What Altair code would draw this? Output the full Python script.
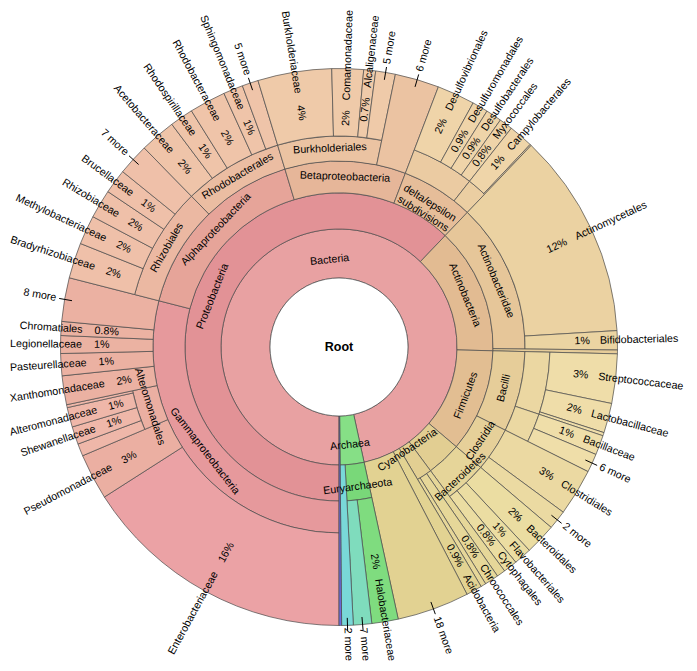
import math
import colorsys
import altair as alt
import pandas as pd

# ---------------- data (clockwise order, starting at the bottom) ----------------
node_ids = [
    "Bacteria", "Archaea", "Other",
    "Proteobacteria", "Actinobacteria", "Firmicutes", "BacteroidetesP", "Cyanobacteria", "Acidobacteria", "more18",
    "Gammaproteobacteria", "Alphaproteobacteria", "Betaproteobacteria", "DeltaEpsilon",
    "Enterobacteriaceae", "Pseudomonadaceae", "Alteromonadales", "Xanthomonadaceae", "Pasteurellaceae",
    "Legionellaceae", "Chromatiales", "gmore8",
    "alt_a", "Shewanellaceae", "Alteromonadaceae", "alt_b",
    "Rhizobiales", "Rhodobacterales",
    "Bradyrhizobiaceae", "Methylobacteriaceae", "Rhizobiaceae", "Brucellaceae", "amore7",
    "Acetobacteraceae", "Rhodospirillaceae", "Rhodobacteraceae", "Sphingomonadaceae", "amore5",
    "Burkholderiales", "bmore6",
    "Burkholderiaceae", "Comamonadaceae", "Alcaligenaceae", "bmore5",
    "Delta", "Epsilon",
    "Desulfovibrionales", "Desulfuromonadales", "Desulfobacterales", "Myxococcales",
    "Campylobacterales", "eps_b",
    "Actinobacteridae", "act_b", "Actinomycetales", "Bifidobacteriales",
    "Bacilli", "Clostridia", "Lactobacillales", "Bacillales",
    "Streptococcaceae", "Lactobacillaceae", "lac_c", "Bacillaceae", "fmore6",
    "Clostridiales", "cmore2",
    "BacteroidetesC", "Bacteroidales", "Flavobacteriales", "Cytophagales",
    "cy_a", "Chroococcales", "cy_b",
    "Euryarchaeota", "amore2", "Halobacteriaceae", "emore7",
]
node_parents = [
    "Root", "Root", "Root",
    "Bacteria", "Bacteria", "Bacteria", "Bacteria", "Bacteria", "Bacteria", "Bacteria",
    "Proteobacteria", "Proteobacteria", "Proteobacteria", "Proteobacteria",
    "Gammaproteobacteria", "Gammaproteobacteria", "Gammaproteobacteria", "Gammaproteobacteria", "Gammaproteobacteria",
    "Gammaproteobacteria", "Gammaproteobacteria", "Gammaproteobacteria",
    "Alteromonadales", "Alteromonadales", "Alteromonadales", "Alteromonadales",
    "Alphaproteobacteria", "Alphaproteobacteria",
    "Rhizobiales", "Rhizobiales", "Rhizobiales", "Rhizobiales", "Rhizobiales",
    "Rhodobacterales", "Rhodobacterales", "Rhodobacterales", "Rhodobacterales", "Rhodobacterales",
    "Betaproteobacteria", "Betaproteobacteria",
    "Burkholderiales", "Burkholderiales", "Burkholderiales", "Burkholderiales",
    "DeltaEpsilon", "DeltaEpsilon",
    "Delta", "Delta", "Delta", "Delta",
    "Epsilon", "Epsilon",
    "Actinobacteria", "Actinobacteria", "Actinobacteridae", "Actinobacteridae",
    "Firmicutes", "Firmicutes", "Bacilli", "Bacilli",
    "Lactobacillales", "Lactobacillales", "Lactobacillales", "Bacillales", "Bacillales",
    "Clostridia", "Clostridia",
    "BacteroidetesP", "BacteroidetesC", "BacteroidetesC", "BacteroidetesC",
    "Cyanobacteria", "Cyanobacteria", "Cyanobacteria",
    "Archaea", "Archaea", "Euryarchaeota", "Euryarchaeota",
]
node_labels = [
    "Bacteria", "Archaea", "",
    "Proteobacteria", "Actinobacteria", "Firmicutes", "", "Cyanobacteria", "Acidobacteria", "18 more",
    "Gammaproteobacteria", "Alphaproteobacteria", "Betaproteobacteria", "delta/epsilon\nsubdivisions",
    "Enterobacteriaceae", "Pseudomonadaceae", "Alteromonadales", "Xanthomonadaceae", "Pasteurellaceae",
    "Legionellaceae", "Chromatiales", "8 more",
    "", "Shewanellaceae", "Alteromonadaceae", "",
    "Rhizobiales", "Rhodobacterales",
    "Bradyrhizobiaceae", "Methylobacteriaceae", "Rhizobiaceae", "Brucellaceae", "7 more",
    "Acetobacteraceae", "Rhodospirillaceae", "Rhodobacteraceae", "Sphingomonadaceae", "5 more",
    "Burkholderiales", "6 more",
    "Burkholderiaceae", "Comamonadaceae", "Alcaligenaceae", "5 more",
    "", "",
    "Desulfovibrionales", "Desulfuromonadales", "Desulfobacterales", "Myxococcales",
    "Campylobacterales", "",
    "Actinobacteridae", "", "Actinomycetales", "Bifidobacteriales",
    "Bacilli", "Clostridia", "", "",
    "Streptococcaceae", "Lactobacillaceae", "", "Bacillaceae", "6 more",
    "Clostridiales", "2 more",
    "Bacteroidetes", "Bacteroidales", "Flavobacteriales", "Cytophagales",
    "", "Chroococcales", "",
    "Euryarchaeota", "2 more", "Halobacteriaceae", "7 more",
]
# percentage of all reads for leaves (None = inner node, summed from children)
node_values = [
    None, None, 0.15,
    None, None, None, None, None, 0.92, 4.19,
    None, None, None, None,
    15.94, 2.67, None, 1.67, 1.28,
    1.03, 0.81, 2.53,
    0.72, 1.03, 1.14, 0.17,
    None, None,
    2.06, 1.69, 1.67, 1.42, 1.83,
    2.08, 1.36, 2.11, 1.14, 0.94,
    None, 2.56,
    4.28, 1.83, 0.69, 1.14,
    None, None,
    2.19, 0.92, 0.92, 0.78,
    1.42, 0.08,
    None, 0.22, 11.94, 1.11,
    None, None, None, None,
    2.86, 1.72, 0.19, 1.14, 1.08,
    2.72, 1.11,
    None, 1.81, 1.03, 0.81,
    0.5, 0.81, 0.3,
    None, 0.67, 1.53, 1.06,
]

# ---------------- style ----------------
hues = {
    "Bacteria": 359, "Archaea": 120, "Other": 240,
    "Proteobacteria": 357, "Actinobacteria": 31, "Firmicutes": 33, "BacteroidetesP": 45,
    "Cyanobacteria": 46, "Acidobacteria": 49, "more18": 48,
    "Gammaproteobacteria": 358, "Alphaproteobacteria": 9, "Betaproteobacteria": 23, "DeltaEpsilon": 28,
    "Enterobacteriaceae": 358, "Pseudomonadaceae": 10, "Alteromonadales": 10, "Xanthomonadaceae": 12,
    "Pasteurellaceae": 12, "Legionellaceae": 13, "Chromatiales": 13, "gmore8": 12,
    "alt_a": 12, "Shewanellaceae": 12, "Alteromonadaceae": 12, "alt_b": 12,
    "Rhizobiales": 18, "Rhodobacterales": 22,
    "Bradyrhizobiaceae": 20, "Methylobacteriaceae": 20, "Rhizobiaceae": 20, "Brucellaceae": 20, "amore7": 20,
    "Acetobacteraceae": 23, "Rhodospirillaceae": 23, "Rhodobacteraceae": 23, "Sphingomonadaceae": 23,
    "amore5": 23,
    "Burkholderiales": 27, "bmore6": 27,
    "Burkholderiaceae": 28, "Comamonadaceae": 28, "Alcaligenaceae": 28, "bmore5": 28,
    "Delta": 33, "Epsilon": 36,
    "Desulfovibrionales": 37, "Desulfuromonadales": 37, "Desulfobacterales": 37, "Myxococcales": 37,
    "Campylobacterales": 38, "eps_b": 38,
    "Actinobacteridae": 35, "act_b": 40, "Actinomycetales": 39, "Bifidobacteriales": 41,
    "Bacilli": 41, "Clostridia": 43, "Lactobacillales": 43, "Bacillales": 44,
    "Streptococcaceae": 45, "Lactobacillaceae": 45, "lac_c": 45, "Bacillaceae": 46, "fmore6": 46,
    "Clostridiales": 45, "cmore2": 46,
    "BacteroidetesC": 47, "Bacteroidales": 48, "Flavobacteriales": 48, "Cytophagales": 48,
    "cy_a": 49, "Chroococcales": 49, "cy_b": 49,
    "Euryarchaeota": 120, "amore2": 180, "Halobacteriaceae": 120, "emore7": 160,
}
SL = {1: (0.61, 0.77), 2: (0.58, 0.73), 3: (0.60, 0.75), 4: (0.65, 0.78), 5: (0.68, 0.80)}
# radial nudges of a few inner labels, as placed in the original
LABEL_DR = {"Bacteria": -6, "Archaea": 5, "Euryarchaeota": 5, "Cyanobacteria": -12, "BacteroidetesC": 8}

# Arial / Liberation Sans advance widths (per 1000 em) for label fitting
CHAR_W = {
    "a": 556, "b": 556, "c": 500, "d": 556, "e": 556, "f": 278, "g": 556, "h": 556, "i": 222, "j": 222,
    "k": 500, "l": 222, "m": 833, "n": 556, "o": 556, "p": 556, "q": 556, "r": 333, "s": 500, "t": 278,
    "u": 556, "v": 500, "w": 722, "x": 500, "y": 500, "z": 500, "A": 667, "B": 667, "C": 722, "D": 722,
    "E": 667, "F": 611, "G": 778, "H": 722, "L": 556, "M": 833, "P": 667, "R": 722, "S": 667, "X": 667,
    " ": 278, "%": 889, ".": 278, "/": 278,
}


def node_color(h, depth):
    s, l = SL[min(depth, 5)]
    if 200 <= h < 300:      # blue end of the hue range
        s, l = 0.62, 0.64
    elif 100 <= h < 200:    # greens / cyans are a little deeper
        s, l = s - 0.03, l - 0.07
    r, g, b = colorsys.hls_to_rgb(h / 360.0, l, s)
    return "#%02x%02x%02x" % (round(r * 255), round(g * 255), round(b * 255))


RINGS = [69, 118, 154, 186, 211]
R_OUT = 278.5
W, H = 681, 655
CX, CY = 331, 339
FONT = "Liberation Sans"
FS = 10.7

# ---------------- layout ----------------
children = {}
for i, p in zip(node_ids, node_parents):
    children.setdefault(p, []).append(i)
val = dict(zip(node_ids, node_values))
lab = dict(zip(node_ids, node_labels))


def total(n):
    return val[n] if val[n] is not None else sum(total(c) for c in children[n])


TOT = sum(total(c) for c in children["Root"])
rows = []


def layout(n, start, depth):
    span = total(n) / TOT * 360.0
    leaf = n not in children
    r1 = RINGS[depth - 1]
    r2 = R_OUT if leaf else RINGS[depth]
    rows.append(dict(id=n, t1=start, t2=start + span, r1=r1, r2=r2, depth=depth, leaf=leaf,
                     color=node_color(hues[n], depth), label=lab[n], value=total(n)))
    s0 = start
    if not leaf:
        for c in children[n]:
            layout(c, s0, depth + 1)
            s0 += total(c) / TOT * 360.0


s0 = 180.0
for c in children["Root"]:
    layout(c, s0, 1)
    s0 += total(c) / TOT * 360.0

arcs = pd.DataFrame(rows)
arcs["cx"] = 0.0
arcs["cy"] = 0.0


def xy(theta, r):
    t = math.radians(theta)
    return r * math.sin(t), -r * math.cos(t)


def text_w(s):
    return sum(CHAR_W.get(ch, 556) for ch in s) * FS / 1000.0


def r_limit(theta):
    """largest radius along theta that stays inside the drawing area"""
    ux, uy = math.sin(math.radians(theta)), -math.cos(math.radians(theta))
    lim = 1e9
    if ux > 1e-9:
        lim = min(lim, (W - 2 - CX) / ux)
    if ux < -1e-9:
        lim = min(lim, (CX - 2) / -ux)
    if uy > 1e-9:
        lim = min(lim, (H - 2 - CY) / uy)
    if uy < -1e-9:
        lim = min(lim, (CY - 2) / -uy)
    return lim


def pct(v):
    return ("%.1f%%" % v) if v < 1 else ("%d%%" % int(v + 0.5))


NAME_R_RIGHT, PCT_R_RIGHT = 261, 251
NAME_R_LEFT, PCT_R_LEFT = 257, 245

tang, left, right, ticks = [], [], [], []
for r in rows:
    if not r["label"]:
        continue
    mid = (r["t1"] + r["t2"]) / 2.0
    a = mid % 360
    lim = r_limit(mid)
    if r["label"].endswith(" more"):
        x1, y1 = xy(mid, 271)
        x2, y2 = xy(mid, 284)
        ticks.append(dict(x=x1, y=y1, x2=x2, y2=y2))
        rt = min(287, lim - text_w(r["label"]))
        x, y = xy(mid, rt)
        if a < 180:
            left.append(dict(x=x, y=y, ang=(a - 90) % 360, txt=r["label"]))
        else:
            right.append(dict(x=x, y=y, ang=(a - 270) % 360, txt=r["label"]))
    elif r["leaf"]:
        if a < 180:
            rn, rp = NAME_R_RIGHT, PCT_R_RIGHT
        else:
            rn, rp = NAME_R_LEFT, PCT_R_LEFT
        shift = max(0.0, rn + text_w(r["label"]) - lim)
        xn, yn = xy(mid, rn - shift)
        xp, yp = xy(mid, rp - shift)
        if a < 180:
            ang = (a - 90) % 360
            left.append(dict(x=xn, y=yn, ang=ang, txt=r["label"]))
            right.append(dict(x=xp, y=yp, ang=ang, txt=pct(r["value"])))
        else:
            ang = (a - 270) % 360
            right.append(dict(x=xn, y=yn, ang=ang, txt=r["label"]))
            left.append(dict(x=xp, y=yp, ang=ang, txt=pct(r["value"])))
    else:
        rm = (r["r1"] + r["r2"]) / 2.0 + LABEL_DR.get(r["id"], 0)
        x, y = xy(mid, rm)
        ang = a - 180 if 90 < a < 270 else a
        tang.append(dict(x=x, y=y, ang=ang % 360, txt=r["label"]))

xs = alt.Scale(domain=[-CX, W - CX], range=[0, W])
ys = alt.Scale(domain=[-CY, H - CY], range=[0, H])
angs = alt.Scale(domain=[0, 360], range=[0, 360])
ths = alt.Scale(domain=[0, 360], range=[0, 2 * math.pi])
rs = alt.Scale(type="linear", domain=[0, 300], range=[0, 300])

arc_layer = alt.Chart(arcs).mark_arc(stroke="#4a4a4a", strokeWidth=0.7).encode(
    x=alt.X("cx:Q", scale=xs, axis=None),
    y=alt.Y("cy:Q", scale=ys, axis=None),
    theta=alt.Theta("t1:Q", scale=ths, stack=None),
    theta2="t2:Q",
    radius=alt.Radius("r1:Q", scale=rs),
    radius2="r2:Q",
    color=alt.Color("color:N", scale=None),
)

root_df = pd.DataFrame([dict(cx=0.0, cy=0.0, t1=0.0, t2=360.0, r1=0.0, r2=RINGS[0], txt="Root")])
root_layer = alt.Chart(root_df).mark_arc(stroke="#4a4a4a", strokeWidth=0.7, fill="white").encode(
    x=alt.X("cx:Q", scale=xs, axis=None),
    y=alt.Y("cy:Q", scale=ys, axis=None),
    theta=alt.Theta("t1:Q", scale=ths, stack=None),
    theta2="t2:Q",
    radius=alt.Radius("r1:Q", scale=rs),
    radius2="r2:Q",
)
root_text = alt.Chart(root_df).mark_text(font=FONT, fontSize=12.5, fontWeight="bold", color="black").encode(
    x=alt.X("cx:Q", scale=xs, axis=None),
    y=alt.Y("cy:Q", scale=ys, axis=None),
    text="txt:N",
)


def text_layer(data, align):
    return alt.Chart(pd.DataFrame(data)).mark_text(
        font=FONT, fontSize=FS, color="black", align=align, baseline="middle", lineBreak="\n"
    ).encode(
        x=alt.X("x:Q", scale=xs, axis=None),
        y=alt.Y("y:Q", scale=ys, axis=None),
        angle=alt.Angle("ang:Q", scale=angs),
        text="txt:N",
    )


tick_layer = alt.Chart(pd.DataFrame(ticks)).mark_rule(color="black", strokeWidth=1).encode(
    x=alt.X("x:Q", scale=xs, axis=None),
    y=alt.Y("y:Q", scale=ys, axis=None),
    x2="x2:Q",
    y2="y2:Q",
)

chart = alt.layer(
    arc_layer, root_layer, root_text,
    text_layer(tang, "center"), text_layer(left, "left"), text_layer(right, "right"),
    tick_layer,
).properties(width=W, height=H, padding=0, autosize="none", background="white").configure_view(stroke=None)

chart.save("out.html", embed_options={"renderer": "svg", "actions": False})
